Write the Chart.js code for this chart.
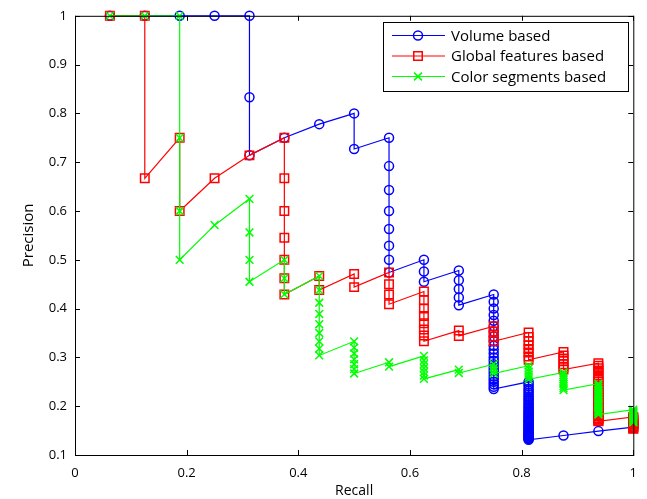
<!DOCTYPE html>
<html>
<head>
<meta charset="utf-8">
<script src="https://cdn.jsdelivr.net/npm/chart.js@4/dist/chart.umd.min.js"></script>
<style>
  html, body { margin: 0; padding: 0; background: #fff; }
</style>
</head>
<body>
<canvas id="c" width="647" height="499"></canvas>
<script>
// recall levels (16 relevant items), precision values read per level
const recallLevels = [0.0625, 0.125, 0.1875, 0.25, 0.3125, 0.375, 0.4375, 0.5,
  0.5625, 0.625, 0.6875, 0.75, 0.8125, 0.875, 0.9375, 1];

const volumePrecision = [
  [1], [1], [1], [1],
  [1, 0.833, 0.714],
  [0.75],
  [0.778],
  [0.8, 0.727],
  [0.75, 0.692, 0.643, 0.6, 0.563, 0.529, 0.5, 0.474],
  [0.5, 0.476, 0.455],
  [0.478, 0.458, 0.44, 0.423, 0.407],
  [0.429, 0.414, 0.4, 0.387, 0.375, 0.364, 0.353, 0.343, 0.333, 0.324, 0.316, 0.308,
   0.3, 0.293, 0.286, 0.279, 0.273, 0.267, 0.261, 0.255, 0.25, 0.245, 0.24, 0.235],
  [0.25, 0.245, 0.241, 0.236, 0.232, 0.228, 0.224, 0.22, 0.217, 0.213, 0.21, 0.206,
   0.203, 0.2, 0.197, 0.194, 0.191, 0.188, 0.186, 0.183, 0.181, 0.178, 0.176, 0.173,
   0.171, 0.169, 0.167, 0.165, 0.163, 0.16, 0.159, 0.157, 0.155, 0.153, 0.151, 0.149,
   0.148, 0.146, 0.144, 0.143, 0.141, 0.14, 0.138, 0.137, 0.135, 0.134, 0.133, 0.131],
  [0.14],
  [0.149],
  [0.157]
];

const globalPrecision = [
  [1],
  [1, 0.667],
  [0.75, 0.6],
  [0.667],
  [0.714],
  [0.75, 0.667, 0.6, 0.545, 0.5, 0.462, 0.429],
  [0.467, 0.438],
  [0.471, 0.444],
  [0.474, 0.45, 0.429, 0.409],
  [0.435, 0.417, 0.4, 0.385, 0.37, 0.357, 0.345, 0.333],
  [0.355, 0.344],
  [0.364, 0.353, 0.343, 0.333],
  [0.351, 0.342, 0.333, 0.325, 0.317, 0.31, 0.302, 0.295],
  [0.311, 0.304, 0.298, 0.292, 0.286, 0.28, 0.275],
  [0.288, 0.283, 0.278, 0.273, 0.268, 0.263, 0.259, 0.254, 0.25, 0.246, 0.242, 0.238,
   0.234, 0.231, 0.227, 0.224, 0.221, 0.217, 0.214, 0.211, 0.208, 0.205, 0.203, 0.2,
   0.197, 0.195, 0.192, 0.19, 0.188, 0.185, 0.183, 0.181, 0.179, 0.176, 0.174, 0.172,
   0.17, 0.169],
  [0.178, 0.176, 0.174, 0.172, 0.17, 0.168, 0.167, 0.165, 0.163, 0.162, 0.16, 0.158,
   0.157, 0.155, 0.154]
];

const colorPrecision = [
  [1],
  [1],
  [1, 0.75, 0.6, 0.5],
  [0.571],
  [0.625, 0.556, 0.5, 0.455],
  [0.5, 0.462, 0.429],
  [0.467, 0.438, 0.412, 0.389, 0.368, 0.35, 0.333, 0.318, 0.304],
  [0.333, 0.32, 0.308, 0.296, 0.286, 0.276, 0.267],
  [0.29, 0.281],
  [0.303, 0.294, 0.286, 0.278, 0.27, 0.263, 0.256],
  [0.275, 0.268],
  [0.286, 0.279, 0.273, 0.267],
  [0.283, 0.277, 0.271, 0.265, 0.26, 0.255],
  [0.269, 0.264, 0.259, 0.255, 0.25, 0.246, 0.241, 0.237, 0.233],
  [0.246, 0.242, 0.238, 0.234, 0.231, 0.227, 0.224, 0.221, 0.217, 0.214, 0.211, 0.208,
   0.205, 0.203, 0.2, 0.197, 0.195, 0.192, 0.19, 0.188, 0.185, 0.183],
  [0.193, 0.19, 0.188, 0.186, 0.184, 0.182, 0.18, 0.178, 0.176, 0.174, 0.172, 0.17,
   0.168, 0.167]
];

const seriesNames = ['Volume based', 'Global features based', 'Color segments based'];
const seriesColors = ['#0000ff', '#ff0000', '#00ff00'];
const seriesMarkers = ['circle', 'rect', 'crossRot'];
const markerRadius = [4.5, 6, 5.5];

const xTicks = [0, 0.2, 0.4, 0.6, 0.8, 1];
const yTicks = [0.1, 0.2, 0.3, 0.4, 0.5, 0.6, 0.7, 0.8, 0.9, 1];

const FONT = "'Open Sans', 'DejaVu Sans', sans-serif";

function toPoints(levels) {
  const pts = [];
  levels.forEach((vals, i) => vals.forEach(v => pts.push({ x: recallLevels[i], y: v })));
  return pts;
}

const allPrecision = [volumePrecision, globalPrecision, colorPrecision];

const datasets = allPrecision.map((p, i) => ({
  label: seriesNames[i],
  data: toPoints(p),
  showLine: true,
  borderColor: seriesColors[i],
  borderWidth: 1.2,
  pointStyle: seriesMarkers[i],
  pointRadius: markerRadius[i],
  pointBorderColor: seriesColors[i],
  pointBackgroundColor: 'rgba(0,0,0,0)',
  pointBorderWidth: 1.5,
  tension: 0,
  clip: false,
  order: 3 - i   // green drawn on top, blue at the bottom
}));

// axes box, inward ticks and the boxed legend
const frame = {
  id: 'frame',
  afterDatasetsDraw(chart) {
    const { ctx, chartArea: a, scales: { x, y } } = chart;
    ctx.save();
    ctx.strokeStyle = '#000';
    ctx.lineWidth = 1;
    ctx.strokeRect(a.left + 0.5, a.top + 0.5, a.right - a.left, a.bottom - a.top);
    const tl = 5;
    ctx.beginPath();
    xTicks.forEach(v => {
      const px = Math.round(x.getPixelForValue(v)) + 0.5;
      ctx.moveTo(px, a.bottom); ctx.lineTo(px, a.bottom - tl);
      ctx.moveTo(px, a.top); ctx.lineTo(px, a.top + tl);
    });
    yTicks.forEach(v => {
      const py = Math.round(y.getPixelForValue(v)) + 0.5;
      ctx.moveTo(a.left, py); ctx.lineTo(a.left + tl, py);
      ctx.moveTo(a.right, py); ctx.lineTo(a.right - tl, py);
    });
    ctx.stroke();

    // legend
    const lx = 383, ly = 22, lw = 245, lh = 69;
    ctx.fillStyle = '#fff';
    ctx.fillRect(lx, ly, lw, lh);
    ctx.strokeStyle = '#000';
    ctx.strokeRect(lx + 0.5, ly + 0.5, lw, lh);
    ctx.font = '15px ' + FONT;
    ctx.textBaseline = 'middle';
    ctx.textAlign = 'left';
    seriesNames.forEach((name, i) => {
      const ry = ly + 13.5 + i * 20.5;
      ctx.strokeStyle = seriesColors[i];
      ctx.lineWidth = 1.2;
      ctx.beginPath();
      ctx.moveTo(392, ry); ctx.lineTo(445, ry);
      ctx.stroke();
      ctx.fillStyle = 'rgba(0,0,0,0)';
      ctx.lineWidth = 1.5;
      Chart.helpers.drawPoint(ctx, { pointStyle: seriesMarkers[i], radius: markerRadius[i], borderWidth: 1.5, rotation: 0 }, 418, ry);
      ctx.fillStyle = '#000';
      ctx.fillText(name, 451, ry + 1);
    });
    ctx.restore();
  }
};

new Chart(document.getElementById('c'), {
  type: 'scatter',
  data: { datasets },
  options: {
    responsive: false,
    animation: false,
    layout: { padding: { top: 12, right: 12, left: 0, bottom: 0 } },
    plugins: { legend: { display: false }, tooltip: { enabled: false } },
    scales: {
      x: {
        type: 'linear', min: 0, max: 1,
        afterFit(s) { s.height = 44; },
        afterBuildTicks(s) { s.ticks = xTicks.map(v => ({ value: v })); },
        grid: { display: false, drawTicks: false },
        border: { display: false },
        ticks: { color: '#000', padding: 10, font: { family: FONT, size: 13 }, callback: v => String(+v.toFixed(1)) },
        title: { display: true, text: 'Recall', color: '#000', font: { family: FONT, size: 14 }, padding: { top: 0, bottom: 0 } }
      },
      y: {
        type: 'linear', min: 0.1, max: 1,
        afterFit(s) { s.width = 75; },
        afterBuildTicks(s) { s.ticks = yTicks.map(v => ({ value: v })); },
        grid: { display: false, drawTicks: false },
        border: { display: false },
        ticks: { color: '#000', padding: 8, font: { family: FONT, size: 13 }, callback: v => String(+v.toFixed(1)) },
        title: { display: true, text: 'Precision', color: '#000', font: { family: FONT, size: 15 }, padding: { top: 20, bottom: 0 } }
      }
    }
  },
  plugins: [frame]
});
</script>
</body>
</html>
